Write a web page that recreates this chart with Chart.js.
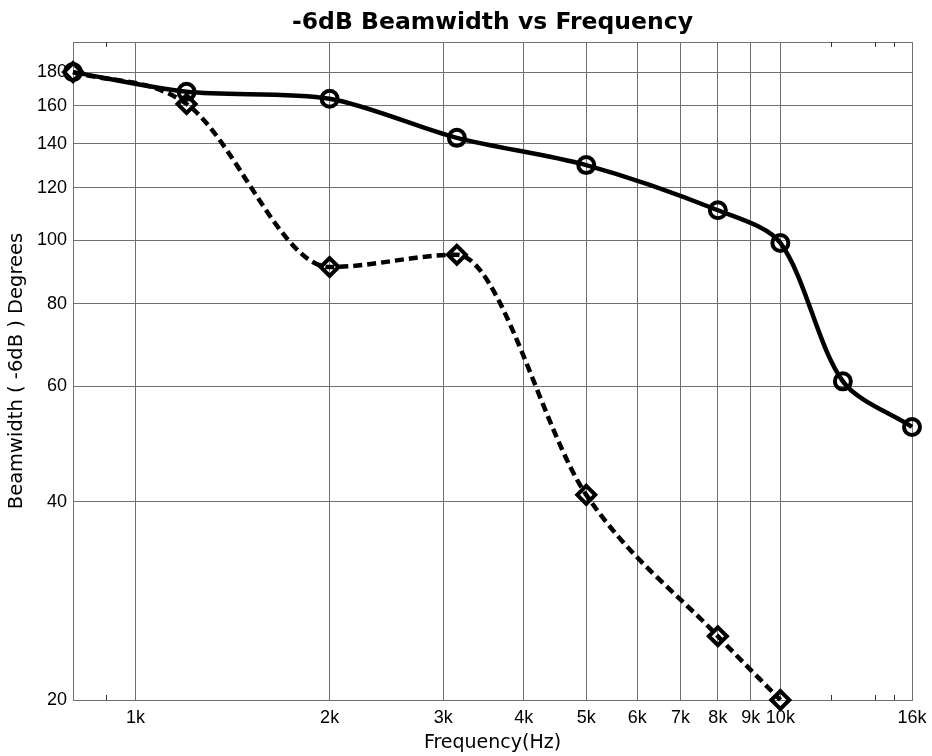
<!DOCTYPE html>
<html>
<head>
<meta charset="utf-8">
<title>-6dB Beamwidth vs Frequency</title>
<script src="https://cdn.jsdelivr.net/npm/chart.js@4.4.1/dist/chart.umd.min.js"></script>
<style>
  html, body { margin:0; padding:0; background:#fff; }
  #wrap { position:relative; width:932px; height:756px; }
</style>
</head>
<body>
<div id="wrap"><canvas id="beam"></canvas></div>
<script>
// ====== values ======
const freqSolid = [800, 1200, 2000, 3150, 5000, 8000, 10000, 12500, 16000];
const beamSolid = [180, 168, 164, 143, 130, 111, 99, 61, 52];

const freqDashed = [800, 1200, 2000, 3150, 5000, 8000, 10000];
const beamDashed = [180, 161, 91, 95, 41, 25, 20];

const xTicks      = [800, 1000, 2000, 3000, 4000, 5000, 6000, 7000, 8000, 9000, 10000, 16000];
const xTickLabels = ['', '1k', '2k', '3k', '4k', '5k', '6k', '7k', '8k', '9k', '10k', '16k'];
const xMinorTicks = [900, 12000, 14000, 15000];
const yTicks      = [20, 40, 60, 80, 100, 120, 140, 160, 180, 200];
const yTickLabels = ['20', '40', '60', '80', '100', '120', '140', '160', '180', ''];

const GRID = '#707070';
const SANS = '"Liberation Sans", Arial, sans-serif';
const VERD = '"DejaVu Sans", Verdana, sans-serif';

const pts = (xs, ys) => xs.map((x, i) => ({ x, y: ys[i] }));

// short inward tick marks (top & bottom) for the minor x values
const minorTickPlugin = {
  id: 'minorTicks',
  beforeDatasetsDraw(c){
    const { ctx, chartArea: a, scales: { x } } = c;
    ctx.save();
    ctx.strokeStyle = '#333'; ctx.lineWidth = 1;
    ctx.beginPath();
    xMinorTicks.forEach(v => {
      const px = Math.round(x.getPixelForValue(v)) + 0.5;
      ctx.moveTo(px, a.bottom); ctx.lineTo(px, a.bottom - 5);
      ctx.moveTo(px, a.top);    ctx.lineTo(px, a.top + 5);
    });
    ctx.stroke();
    ctx.restore();
  }
};

new Chart(document.getElementById('beam'), {
  type: 'line',
  data: { datasets: [
    { label: 'solid', data: pts(freqSolid, beamSolid),
      borderColor: '#000', borderWidth: 4.5, tension: 0.3,
      pointStyle: 'circle', pointRadius: 8, pointBorderWidth: 4,
      pointBorderColor: '#000', pointBackgroundColor: 'rgba(0,0,0,0)', clip: false },
    { label: 'dashed', data: pts(freqDashed, beamDashed),
      borderColor: '#000', borderWidth: 4.5, borderDash: [9, 5], cubicInterpolationMode: 'monotone',
      pointStyle: 'rectRot', pointRadius: 9, pointBorderWidth: 4,
      pointBorderColor: '#000', pointBackgroundColor: 'rgba(0,0,0,0)', clip: false }
  ]},
  options: {
    responsive: true, maintainAspectRatio: false, animation: false,
    layout: { padding: { top: 0, right: 20, bottom: 0, left: 0 } },
    plugins: {
      legend: { display: false },
      tooltip: { enabled: false },
      title: { display: true, fullSize: false, text: '-6dB Beamwidth vs Frequency', color: '#000',
               font: { family: VERD, size: 23.5, weight: 'bold', lineHeight: 1.2 },
               padding: { top: 9, bottom: 4.8 } }
    },
    scales: {
      x: {
        type: 'logarithmic', min: 800, max: 16000,
        afterBuildTicks: s => { s.ticks = xTicks.map(v => ({ value: v })); },
        afterFit: s => { s.height = 56; s.paddingRight = 0; s.paddingLeft = 0; },
        ticks: { autoSkip: false, maxRotation: 0, color: '#000', padding: 7,
                 font: { family: SANS, size: 18 },
                 callback: (v, i) => xTickLabels[i] },
        grid: { color: GRID, drawTicks: false },
        border: { display: true, color: GRID },
        title: { display: true, text: 'Frequency(Hz)', color: '#000',
                 font: { family: VERD, size: 19 }, padding: { top: 0, bottom: 2 } }
      },
      y: {
        type: 'logarithmic', min: 20, max: 200,
        afterBuildTicks: s => { s.ticks = yTicks.map(v => ({ value: v })); },
        afterFit: s => { s.width = 73; },
        ticks: { autoSkip: false, color: '#000', padding: 6,
                 font: { family: SANS, size: 18 },
                 callback: (v, i) => yTickLabels[i] },
        grid: { color: GRID, drawTicks: false },
        border: { display: true, color: GRID },
        title: { display: true, text: 'Beamwidth ( -6dB ) Degrees', color: '#000',
                 font: { family: VERD, size: 19.5 }, padding: { top: 5.4, bottom: 0 } }
      }
    }
  },
  plugins: [minorTickPlugin]
});
</script>
</body>
</html>
